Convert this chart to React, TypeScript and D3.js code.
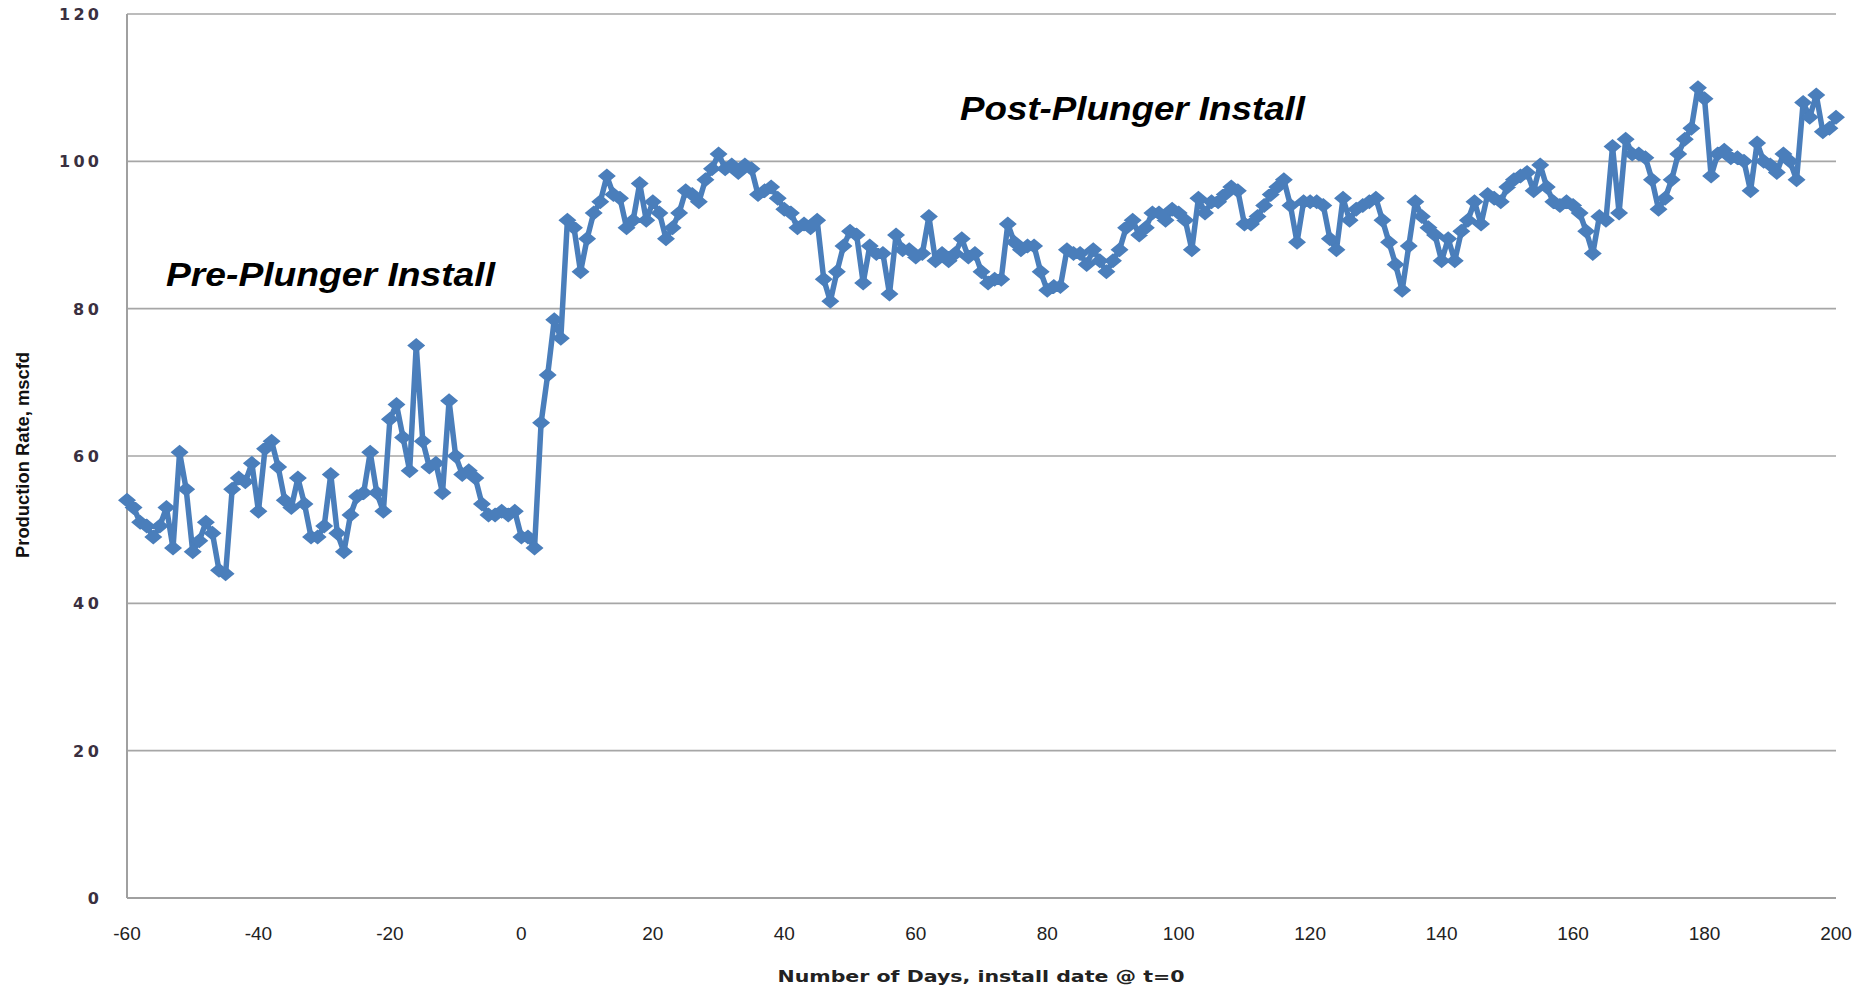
import React from "react";
import * as d3 from "d3";

// ---- data ----
const startDay = -60;
const productionRate: number[] = [
  54, 53, 51, 50.5, 49, 50.5, 53, 47.5, 60.5, 55.5,
  47, 48.5, 51, 49.5, 44.5, 44, 55.5, 57, 56.5, 59,
  52.5, 61, 62, 58.5, 54, 53, 57, 53.5, 49, 49,
  50.5, 57.5, 49.5, 47, 52, 54.5, 55, 60.5, 55, 52.5,
  65, 67, 62.5, 58, 75, 62, 58.5, 59, 55, 67.5,
  60, 57.5, 58, 57, 53.5, 52, 52, 52.5, 52, 52.5,
  49, 49, 47.5, 64.5, 71, 78.5, 76, 92, 91, 85,
  89.5, 93, 94.5, 98, 95.5, 95, 91, 92, 97, 92,
  94.5, 93, 89.5, 91, 93, 96, 95.5, 94.5, 97.5, 99,
  101, 99, 99.5, 98.5, 99.5, 99, 95.5, 96, 96.5, 95,
  93.5, 93, 91, 91.5, 91, 92, 84, 81, 85, 88.5,
  90.5, 90, 83.5, 88.5, 87.5, 87.5, 82, 90, 88, 88,
  87, 87.5, 92.5, 86.5, 87.5, 86.5, 87.5, 89.5, 87, 87.5,
  85, 83.5, 84, 84, 91.5, 89, 88, 88.5, 88.5, 85,
  82.5, 83, 83, 88, 87.5, 87.5, 86, 88, 86.5, 85,
  86.5, 88, 91, 92, 90, 91, 93, 93, 92, 93.5,
  93, 92, 88, 95, 93, 94.5, 94.5, 95.5, 96.5, 96,
  91.5, 91.5, 92.5, 94, 95.5, 96.5, 97.5, 94, 89, 94.5,
  94.5, 94.5, 94, 89.5, 88, 95, 92, 93.5, 94, 94.5,
  95, 92, 89, 86, 82.5, 88.5, 94.5, 92.5, 91, 90,
  86.5, 89.5, 86.5, 90.5, 92, 94.5, 91.5, 95.5, 95, 94.5,
  96.5, 97.5, 98, 98.5, 96, 99.5, 96.5, 94.5, 94, 94.5,
  94, 93, 90.5, 87.5, 92.5, 92, 102, 93, 103, 101,
  101, 100.5, 97.5, 93.5, 95, 97.5, 101, 103, 104.5, 110,
  108.5, 98, 101, 101.5, 100.5, 100.5, 100, 96, 102.5, 100,
  99.5, 98.5, 101, 100, 97.5, 108, 106, 109, 104, 104.5,
  106,
];
const days: number[] = productionRate.map((_, i) => startDay + i);

const xTicks: number[] = [-60, -40, -20, 0, 20, 40, 60, 80, 100, 120, 140, 160, 180, 200];
const yTicks: number[] = [0, 20, 40, 60, 80, 100, 120];

const xTitle = "Number of Days, install date @ t=0";
const yTitle = "Production Rate, mscfd";
const preLabel = "Pre-Plunger Install";
const postLabel = "Post-Plunger Install";

// ---- layout ----
const W = 1862;
const H = 991;
const left = 127;
const right = 1836;
const top = 14;
const bottom = 898;
const blue = "#4A7EBB";

export default function App() {
  const x = d3.scaleLinear().domain([-60, 200]).range([left, right]);
  const y = d3.scaleLinear().domain([0, 120]).range([bottom, top]);

  const pts = days.map((d, i) => [x(d), y(productionRate[i])] as [number, number]);
  const line = d3.line<[number, number]>().x((p) => p[0]).y((p) => p[1]);
  const hw = 9;
  const hh = 7.5;
  const diamonds = pts
    .map(([px, py]) => `M${px - hw},${py}L${px},${py - hh}L${px + hw},${py}L${px},${py + hh}Z`)
    .join("");

  return (
    <svg
      width={W}
      height={H}
      style={{ position: "absolute", left: 0, top: 0, background: "#fff" }}
    >
      {/* grid */}
      {yTicks.map((t) => (
        <line
          key={"g" + t}
          x1={left}
          x2={right}
          y1={y(t)}
          y2={y(t)}
          stroke="#A6A6A6"
          strokeWidth={1.6}
        />
      ))}
      {/* axes */}
      <line x1={left} x2={left} y1={top} y2={bottom} stroke="#A0A0A0" strokeWidth={2} />
      <line x1={left} x2={right} y1={bottom} y2={bottom} stroke="#A0A0A0" strokeWidth={2} />

      {/* y tick labels */}
      {yTicks.map((t) => {
        const s = String(t);
        return (
          <text
            key={"yl" + t}
            x={99}
            y={y(t) + 6}
            textAnchor="end"
            fontFamily="DejaVu Sans, Verdana, sans-serif"
            fontWeight="bold"
            fontSize={16}
            fill="#3a3040"
            textLength={s.length * 14 - 2}
            lengthAdjust="spacing"
          >
            {s}
          </text>
        );
      })}

      {/* x tick labels */}
      {xTicks.map((t) => (
        <text
          key={"xl" + t}
          x={x(t)}
          y={940}
          textAnchor="middle"
          fontFamily="Liberation Sans, Arial, sans-serif"
          fontSize={19}
          fill="#222"
        >
          {t}
        </text>
      ))}

      {/* axis titles */}
      <text
        x={981}
        y={982}
        textAnchor="middle"
        fontFamily="DejaVu Sans, Verdana, sans-serif"
        fontWeight="bold"
        fontSize={16}
        fill="#222"
        textLength={407}
        lengthAdjust="spacingAndGlyphs"
      >
        {xTitle}
      </text>
      <text
        transform={`translate(29,455) rotate(-90)`}
        textAnchor="middle"
        fontFamily="Liberation Sans Narrow, Liberation Sans, Arial, sans-serif"
        fontWeight="bold"
        fontSize={19}
        fill="#111"
        textLength={206}
        lengthAdjust="spacingAndGlyphs"
      >
        {yTitle}
      </text>

      {/* series */}
      <path
        d={line(pts) || ""}
        fill="none"
        stroke={blue}
        strokeWidth={5.5}
        strokeLinejoin="round"
      />
      <path d={diamonds} fill={blue} stroke="none" />

      {/* annotations */}
      <text
        x={166}
        y={286}
        fontFamily="Liberation Sans, Arial, sans-serif"
        fontWeight="bold"
        fontStyle="italic"
        fontSize={34}
        fill="#000"
        textLength={329}
        lengthAdjust="spacingAndGlyphs"
      >
        {preLabel}
      </text>
      <text
        x={960}
        y={119.5}
        fontFamily="Liberation Sans, Arial, sans-serif"
        fontWeight="bold"
        fontStyle="italic"
        fontSize={34}
        fill="#000"
        textLength={345}
        lengthAdjust="spacingAndGlyphs"
      >
        {postLabel}
      </text>
    </svg>
  );
}
